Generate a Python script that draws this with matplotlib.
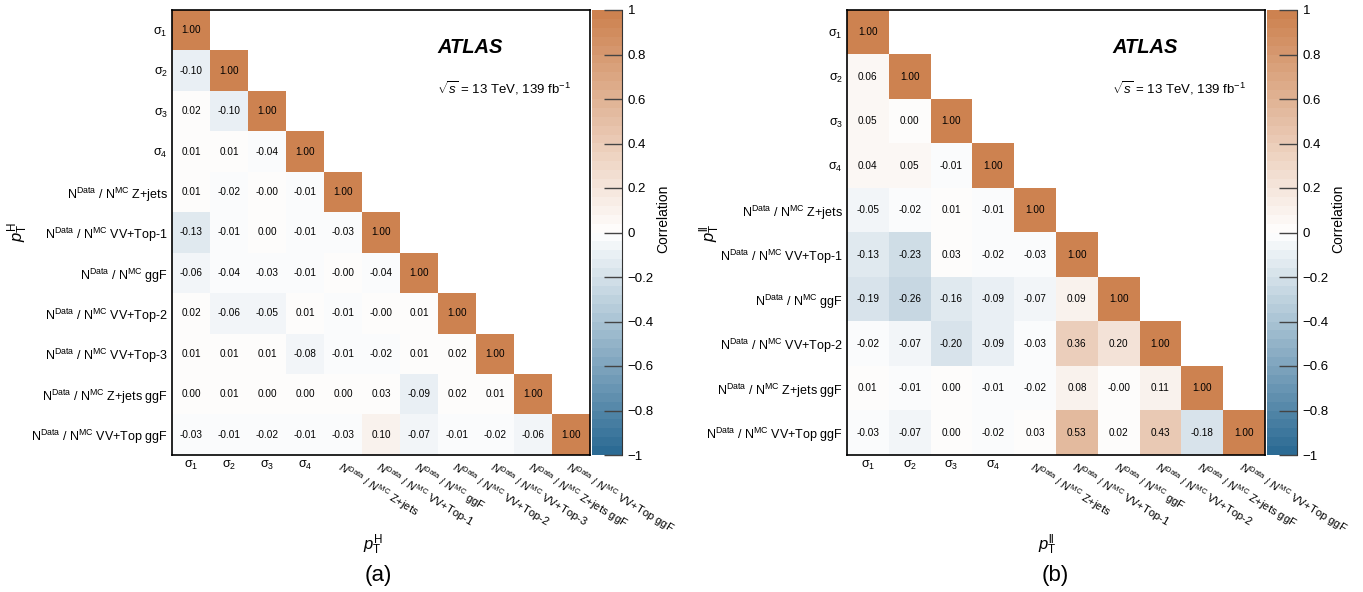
import numpy as np
import matplotlib
matplotlib.use("Agg")
import matplotlib.pyplot as plt
from matplotlib.colors import LinearSegmentedColormap
from matplotlib.transforms import ScaledTranslation

plt.rcParams["font.family"] = ["Liberation Sans", "DejaVu Sans"]
plt.rcParams["mathtext.fontset"] = "custom"
plt.rcParams["mathtext.rm"] = "Liberation Sans"
plt.rcParams["mathtext.it"] = "Liberation Sans:italic"
plt.rcParams["mathtext.bf"] = "Liberation Sans:bold"

# lower-triangle correlation rows, panel (a) pT^H
corr_a = [
    [1.00],
    [-0.10, 1.00],
    [0.02, -0.10, 1.00],
    [0.01, 0.01, -0.04, 1.00],
    [0.01, -0.02, -0.0, -0.01, 1.00],
    [-0.13, -0.01, 0.00, -0.01, -0.03, 1.00],
    [-0.06, -0.04, -0.03, -0.01, -0.0, -0.04, 1.00],
    [0.02, -0.06, -0.05, 0.01, -0.01, -0.0, 0.01, 1.00],
    [0.01, 0.01, 0.01, -0.08, -0.01, -0.02, 0.01, 0.02, 1.00],
    [0.00, 0.01, 0.00, 0.00, 0.00, 0.03, -0.09, 0.02, 0.01, 1.00],
    [-0.03, -0.01, -0.02, -0.01, -0.03, 0.10, -0.07, -0.01, -0.02, -0.06, 1.00],
]

# panel (b) pT^ll
corr_b = [
    [1.00],
    [0.06, 1.00],
    [0.05, 0.00, 1.00],
    [0.04, 0.05, -0.01, 1.00],
    [-0.05, -0.02, 0.01, -0.01, 1.00],
    [-0.13, -0.23, 0.03, -0.02, -0.03, 1.00],
    [-0.19, -0.26, -0.16, -0.09, -0.07, 0.09, 1.00],
    [-0.02, -0.07, -0.20, -0.09, -0.03, 0.36, 0.20, 1.00],
    [0.01, -0.01, 0.00, -0.01, -0.02, 0.08, -0.0, 0.11, 1.00],
    [-0.03, -0.07, 0.00, -0.02, 0.03, 0.53, 0.02, 0.43, -0.18, 1.00],
]

sigmas = ["1", "2", "3", "4"]
procs_a = ["Z+jets", "VV+Top-1", "ggF", "VV+Top-2", "VV+Top-3", "Z+jets ggF", "VV+Top ggF"]
procs_b = ["Z+jets", "VV+Top-1", "ggF", "VV+Top-2", "Z+jets ggF", "VV+Top ggF"]

cbar_ticks = [1, 0.8, 0.6, 0.4, 0.2, 0, -0.2, -0.4, -0.6, -0.8, -1]

cmap = LinearSegmentedColormap.from_list(
    "atlas_div", ["#2c6b94", "#ffffff", "#cd8250"], N=50
)
cmap.set_bad("white")

W, H = 1363.0, 592.0


def px_rect(x0, x1, ytop, ybot):
    return [x0 / W, 1 - ybot / H, (x1 - x0) / W, (ybot - ytop) / H]


def draw_panel(fig, ax_px, cax_px, ylab_x, rows, procs, sub, tag, tag_x):
    n = len(rows)
    mat = np.full((n, n), np.nan)
    for i, r in enumerate(rows):
        mat[i, : len(r)] = r

    ax = fig.add_axes(px_rect(*ax_px))
    im = ax.imshow(np.ma.masked_invalid(mat), cmap=cmap, vmin=-1, vmax=1,
                   aspect="auto", interpolation="nearest")
    for i, r in enumerate(rows):
        for j, v in enumerate(r):
            ax.text(j, i, f"{v:.2f}", ha="center", va="center", fontsize=7.2)

    ylabels = ["σ$_{%s}$" % s for s in sigmas] + \
        [r"N$^{\rm Data}$ / N$^{\rm MC}$ " + p for p in procs]
    xlabels = ["σ$_{%s}$" % s for s in sigmas] + \
        [r"$N^{\rm Data}$ / $N^{\rm MC}$ " + p for p in procs]

    ax.set_yticks(range(n))
    ax.set_yticklabels(ylabels, fontsize=9)
    ax.set_xticks(range(n))
    ax.set_xticklabels(xlabels, fontsize=8)
    shift = ScaledTranslation(-8 / 72, 0, fig.dpi_scale_trans)
    for lbl in ax.get_xticklabels()[4:]:
        lbl.set_rotation(-31)
        lbl.set_ha("left")
        lbl.set_va("top")
        lbl.set_rotation_mode("anchor")
        lbl.set_transform(lbl.get_transform() + shift)
    ax.tick_params(length=0, pad=3)
    for lbl in ax.get_yticklabels()[:4] + ax.get_xticklabels()[:4]:
        lbl.set_fontsize(9)
    for sp in ax.spines.values():
        sp.set_linewidth(1.2)

    ax.set_ylabel(r"$p_{\rm T}^{\rm %s}$" % sub, fontsize=12)
    ax.yaxis.set_label_coords(ylab_x, 0.5)
    ax.set_xlabel(r"$p_{\rm T}^{\rm %s}$" % sub, fontsize=12)
    ax.xaxis.set_label_coords(0.48, -0.175)

    ax.text(0.635, 0.915, "ATLAS", transform=ax.transAxes, fontsize=14.5,
            fontweight="bold", style="italic", va="center")
    ax.text(0.635, 0.825, r"$\sqrt{s}$ = 13 TeV, 139 fb$^{-1}$",
            transform=ax.transAxes, fontsize=9.5, va="center")

    cax = fig.add_axes(px_rect(*cax_px))
    cb = fig.colorbar(im, cax=cax, ticks=cbar_ticks)
    cb.set_ticklabels([f"{t:g}".replace("-", "\u2212") for t in cbar_ticks])
    cb.outline.set_visible(False)
    cax.spines["right"].set_visible(True)
    cax.spines["right"].set_color("#333333")
    cax.tick_params(direction="in", length=13, width=1.0, color="#444444",
                    labelsize=9.5, pad=4)
    cb.set_label("Correlation", fontsize=10)
    cax.yaxis.set_label_coords(2.15, 0.53)

    fig.text(tag_x / W, 1 - 575 / H, tag, fontsize=16, ha="center", va="center")
    return ax


fig = plt.figure(figsize=(13.63, 5.92), dpi=100)
draw_panel(fig, (172, 590, 10, 455), (592, 622, 10, 455), -0.34,
           corr_a, procs_a, "H", "(a)", 378)
draw_panel(fig, (847, 1265, 10, 455), (1267, 1297, 10, 455), -0.30,
           corr_b, procs_b, "ll", "(b)", 1055)

fig.savefig("out.png", dpi=100)
